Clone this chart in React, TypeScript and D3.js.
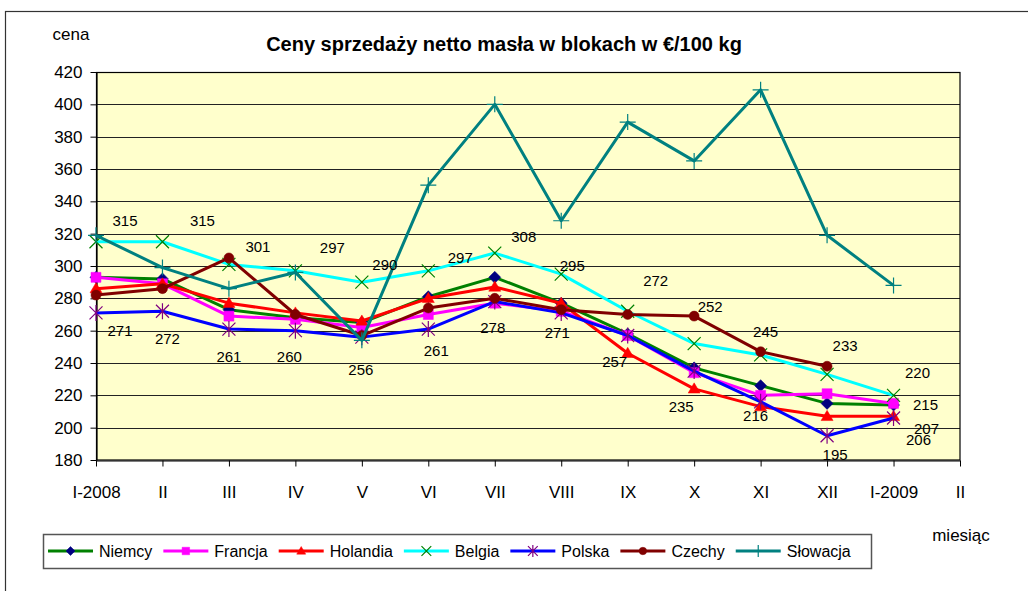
import React, { useEffect, useRef } from "react";
import * as d3 from "d3";

// months on the x axis (index based, "II" shows up twice)
const months = ["I-2008", "II", "III", "IV", "V", "VI", "VII", "VIII", "IX", "X", "XI", "XII", "I-2009", "II"];
const yTicks = [180, 200, 220, 240, 260, 280, 300, 320, 340, 360, 380, 400, 420];

// prices in EUR / 100 kg
const niemcy = [293, 292, 273, 268, 265, 281, 293, 277, 258, 237, 226, 215, 214];
const francja = [293, 289, 269, 267, 262, 270, 277, 272, 257, 234, 220, 221, 215];
const holandia = [286, 289, 277, 271, 266, 280, 287, 277, 246, 224, 213, 207, 207];
const belgia = [315, 315, 301, 297, 290, 297, 308, 295, 272, 252, 245, 233, 220];
const polska = [271, 272, 261, 260, 256, 261, 278, 271, 257, 235, 216, 195, 206];
const czechy = [282, 286, 305, 270, 257, 274, 280, 273, 270, 269, 247, 238, null];
const slowacja = [319, 299, 286, 296, 254, 350, 400, 328, 389, 365, 409, 319, 288];

// hand-moved data label nudges (like in the original excel file)
const belgiaLabelShift = [[29, -21], [40, -21], [29, -18], [37, -23], [23, -18], [32, -13], [29, -17], [11, -9], [28, -31], [16, -37], [5, -23], [18, -29], [24, -23]];
const polskaLabelShift = [[24, 18], [5, 27], [0, 27], [-6, 26], [-1, 32], [8, 21], [-2, 26], [-4, 20], [-13, 26], [-13, 35], [-5, 14], [8, 19], [25, 22]];

const FONT = "'Liberation Sans', Arial, sans-serif";

const markerPath = (type, k = 1) => {
  switch (type) {
    case "diamond": { const h = 6 * k; return `M0,${-h}L${h},0L0,${h}L${-h},0Z`; }
    case "square": { const h = 5 * k; return `M${-h},${-h}H${h}V${h}H${-h}Z`; }
    case "triangle": { const h = 6 * k; return `M0,${-h}L${h},${h * 0.7}L${-h},${h * 0.7}Z`; }
    case "circle": { const r = 5 * k; return `M${r},0A${r},${r} 0 1,1 ${-r},0A${r},${r} 0 1,1 ${r},0Z`; }
    case "x": { const h = 6.5 * k; return `M${-h},${-h}L${h},${h}M${-h},${h}L${h},${-h}`; }
    case "star": { const h = 6.5 * k, v = 8 * k; return `M${-h},${-h}L${h},${h}M${-h},${h}L${h},${-h}M0,${-v}V${v}`; }
    case "plus": { const h = 8 * k; return `M${-h},0H${h}M0,${-h}V${h}`; }
  }
  return "";
};
const filled = (t) => ["diamond", "square", "triangle", "circle"].includes(t);

const series = [
  { name: "Niemcy", values: niemcy, color: "#008000", marker: "diamond", mcolor: "#000080" },
  { name: "Francja", values: francja, color: "#ff00ff", marker: "square", mcolor: "#ff00ff" },
  { name: "Holandia", values: holandia, color: "#ff0000", marker: "triangle", mcolor: "#ff0000" },
  { name: "Belgia", values: belgia, color: "#00ffff", marker: "x", mcolor: "#008000" },
  { name: "Polska", values: polska, color: "#0000ff", marker: "star", mcolor: "#800080" },
  { name: "Czechy", values: czechy, color: "#800000", marker: "circle", mcolor: "#800000" },
  { name: "Słowacja", values: slowacja, color: "#008080", marker: "plus", mcolor: "#008080" },
];

const App = () => {
  const ref = useRef(null);

  useEffect(() => {
    const svg = d3.select(ref.current);
    svg.selectAll("*").remove();

    const x = d3.scaleLinear().domain([0, months.length - 1]).range([96, 960]);
    const y = d3.scaleLinear().domain([180, 420]).range([460, 72]);

    // outer frame
    svg.append("rect").attr("x", 5.5).attr("y", 11.5).attr("width", 1040).attr("height", 600)
      .attr("fill", "#fff").attr("stroke", "#333").attr("stroke-width", 1.2);

    // plot area
    svg.append("rect").attr("x", 96).attr("y", 72).attr("width", 864).attr("height", 388)
      .attr("fill", "#ffffcc");

    svg.append("g").selectAll("line").data(yTicks.slice(1)).join("line")
      .attr("x1", 96).attr("x2", 960)
      .attr("y1", (d) => Math.round(y(d)) + 0.5).attr("y2", (d) => Math.round(y(d)) + 0.5)
      .attr("stroke", "#222").attr("stroke-width", 1);

    svg.append("rect").attr("x", 96.5).attr("y", 72.5).attr("width", 863.5).attr("height", 387.5)
      .attr("fill", "none").attr("stroke", "#000").attr("stroke-width", 1.2);

    // axes
    const yAxis = svg.append("g").attr("transform", "translate(96.5,0)")
      .call(d3.axisLeft(y).tickValues(yTicks).tickSize(6).tickPadding(8).tickSizeOuter(0));
    const xAxis = svg.append("g").attr("transform", "translate(0,460.5)")
      .call(d3.axisBottom(x).tickValues(d3.range(months.length)).tickFormat((i) => months[i])
        .tickSize(6).tickPadding(19).tickSizeOuter(0));
    [yAxis, xAxis].forEach((g) => {
      g.select(".domain").attr("stroke", "#000").attr("stroke-width", 1.2);
      g.selectAll(".tick line").attr("stroke", "#000");
      g.selectAll("text").attr("font-family", FONT).attr("fill", "#000").attr("font-size", 17);
    });

    // lines
    const line = d3.line()
      .defined((d) => d != null)
      .x((d, i) => x(i))
      .y((d) => y(d));

    series.forEach((s) => {
      svg.append("path").datum(s.values).attr("d", line)
        .attr("fill", "none").attr("stroke", s.color).attr("stroke-width", 3)
        .attr("stroke-linejoin", "round");
      svg.append("g").selectAll("path")
        .data(s.values.map((v, i) => ({ v, i })).filter((d) => d.v != null))
        .join("path")
        .attr("transform", (d) => `translate(${x(d.i)},${y(d.v)})`)
        .attr("d", markerPath(s.marker))
        .attr("fill", filled(s.marker) ? s.mcolor : "none")
        .attr("stroke", s.mcolor)
        .attr("stroke-width", filled(s.marker) ? 0.5 : 1.2);
    });

    // data labels
    const labels = [];
    belgia.forEach((v, i) => labels.push({ v, i, dx: belgiaLabelShift[i][0], dy: belgiaLabelShift[i][1] }));
    polska.forEach((v, i) => labels.push({ v, i, dx: polskaLabelShift[i][0], dy: polskaLabelShift[i][1] }));
    labels.push({ v: francja[12], i: 12, dx: 32, dy: 1 });
    labels.push({ v: holandia[12], i: 12, dx: 33, dy: 12 });

    svg.append("g").selectAll("text").data(labels).join("text")
      .attr("x", (d) => x(d.i) + d.dx)
      .attr("y", (d) => y(d.v) + d.dy)
      .attr("text-anchor", "middle").attr("dominant-baseline", "central")
      .attr("font-family", FONT).attr("font-size", 15).attr("fill", "#000")
      .text((d) => d.v);

    // titles
    svg.append("text").attr("x", 504).attr("y", 44).attr("text-anchor", "middle")
      .attr("dominant-baseline", "central").attr("font-family", FONT)
      .attr("font-weight", "bold").attr("font-size", 20).text("Ceny sprzedaży netto masła w blokach w €/100 kg");
    svg.append("text").attr("x", 71).attr("y", 34).attr("text-anchor", "middle")
      .attr("dominant-baseline", "central").attr("font-family", FONT).attr("font-size", 17).text("cena");
    svg.append("text").attr("x", 961).attr("y", 535).attr("text-anchor", "middle")
      .attr("dominant-baseline", "central").attr("font-family", FONT).attr("font-size", 17).text("miesiąc");

    // legend
    svg.append("rect").attr("x", 43.5).attr("y", 534.5).attr("width", 828).attr("height", 34)
      .attr("fill", "#fff").attr("stroke", "#555").attr("stroke-width", 1.5);
    let lx = 48;
    const ly = 551;
    series.forEach((s) => {
      const g = svg.append("g");
      g.append("line").attr("x1", lx).attr("x2", lx + 45).attr("y1", ly).attr("y2", ly)
        .attr("stroke", s.color).attr("stroke-width", 3);
      g.append("path").attr("transform", `translate(${lx + 22.5},${ly})`)
        .attr("d", markerPath(s.marker, 0.75))
        .attr("fill", filled(s.marker) ? s.mcolor : "none")
        .attr("stroke", s.mcolor).attr("stroke-width", filled(s.marker) ? 0.5 : 1.2);
      const t = g.append("text").attr("x", lx + 51).attr("y", ly).attr("dominant-baseline", "central")
        .attr("font-family", FONT).attr("font-size", 16).text(s.name);
      const w = t.node().getComputedTextLength();
      lx += 51 + w + 11;
    });
  }, []);

  return (
    <svg ref={ref} width={1028} height={591}
      style={{ position: "absolute", left: 0, top: 0, background: "#fff" }} />
  );
};

export default App;
